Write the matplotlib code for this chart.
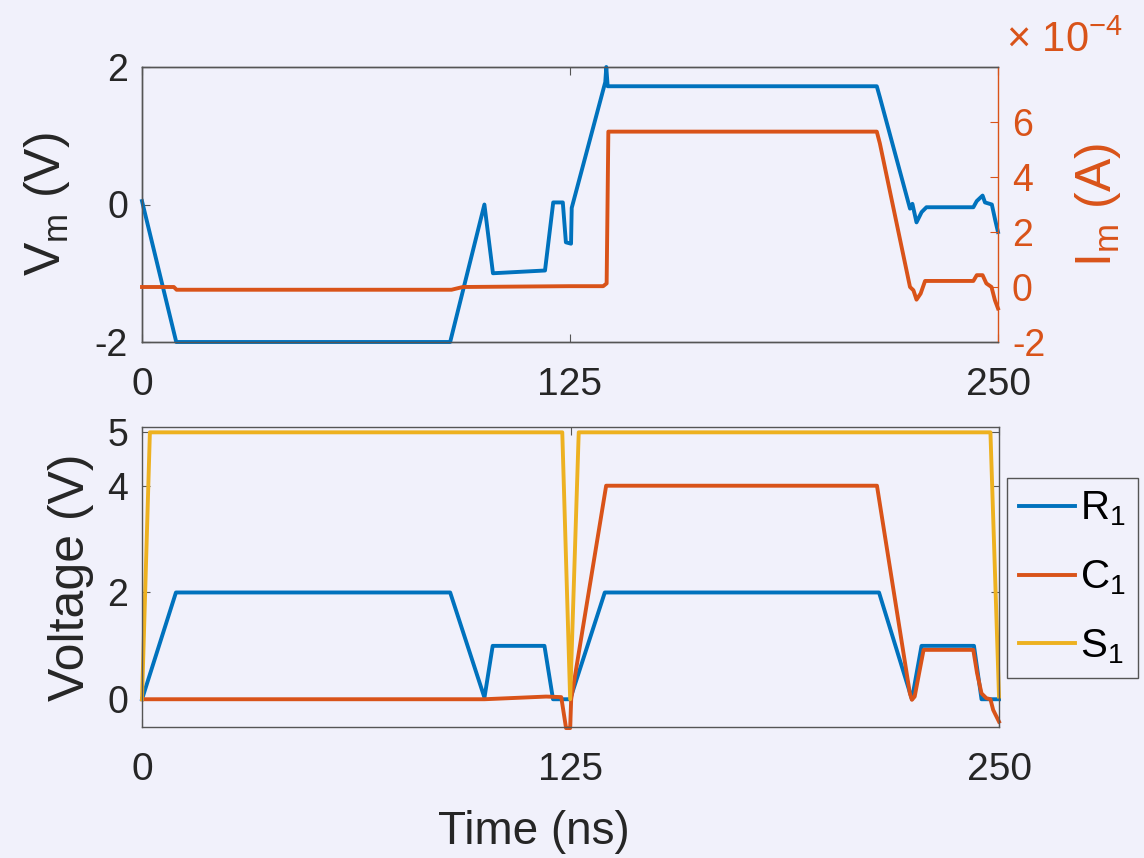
import numpy as np
import matplotlib
matplotlib.use('Agg')
from matplotlib import pyplot as plt

# top panel: memristor voltage (V) and current (1e-4 A)
t_vm = [0, 10, 90, 100, 102.5, 117.7, 120.1, 122.9, 123.8, 125.3, 125.5, 135.3, 135.6, 136.0,
        214.6, 215.5, 224.3, 225.0, 226.2, 227.7, 229.1, 242.8, 243.8, 245.5, 246.2, 248.2, 249.2, 250]
vm = [0.05, -2, -2, 0, -1.0, -0.96, 0.03, 0.03, -0.55, -0.57, -0.05, 1.78, 2.0, 1.72,
      1.72, 1.56, -0.06, 0.01, -0.26, -0.11, -0.04, -0.04, 0.05, 0.13, 0.03, 0.0, -0.23, -0.4]

t_im = [0, 9.3, 10.1, 90.4, 93.7, 124.8, 134.7, 135.7, 136.2, 214.6, 215.5, 224.3, 225.3, 226.2,
        227.4, 228.7, 242.8, 243.8, 245.5, 246.6, 248.1, 249.1, 250]
im = [0.0, 0.0, -0.1, -0.1, 0.0, 0.03, 0.03, 0.13, 5.65, 5.65, 5.22, 0.0, -0.12, -0.46,
      -0.24, 0.22, 0.22, 0.43, 0.43, 0.13, 0.0, -0.48, -0.78]

# bottom panel: node voltages
t_r = [0, 9.9, 89.9, 99.9, 102.3, 117.4, 119.9, 122.8, 124.9, 135, 215, 224.6, 227.4, 242.7, 244.9, 250]
r1 = [0, 2, 2, 0.03, 1, 1, 0, 0, 0, 2, 2, 0, 1, 1, 0, 0]

t_c = [0, 99.9, 117.9, 122.3, 123.7, 124.9, 125.2, 135.4, 214.4, 224.0, 224.6, 225.4, 226.7, 228.0,
       242.5, 243.6, 244.9, 246.3, 247.5, 248.3, 250]
c1 = [0, 0, 0.05, 0.04, -0.54, -0.54, 0, 4, 4, 0.11, -0.01, 0.05, 0.49, 0.925,
      0.925, 0.49, 0.11, 0.02, 0, -0.2, -0.42]

t_s = [0, 2.3, 122.6, 124.9, 127.4, 247.5, 250]
s1 = [0, 5, 5, 0, 5, 5, 0.05]

x_ticks = [0, 125, 250]
names = ['R$_1$', 'C$_1$', 'S$_1$']

bg = '#f1f1fb'
blue = '#0072bd'
orange = '#d95319'
yellow = '#edb120'
dark = '#262626'
edge = '#555555'

plt.rcParams['font.family'] = ['Liberation Sans', 'DejaVu Sans']
plt.rcParams['mathtext.fontset'] = 'custom'
plt.rcParams['mathtext.rm'] = 'Liberation Sans'
plt.rcParams['mathtext.default'] = 'regular'
plt.rcParams['axes.unicode_minus'] = False

fig = plt.figure(figsize=(11.44, 8.58), dpi=100, facecolor=bg)
W, H = 1144, 858
ax1 = fig.add_axes([142 / W, 1 - 342 / H, 856 / W, 275 / H])
ax1r = ax1.twinx()
ax2 = fig.add_axes([142 / W, 1 - 727 / H, 857 / W, 300 / H])

for ax in (ax1, ax2):
    ax.set_facecolor(bg)
    for s in ax.spines.values():
        s.set_color(edge)
        s.set_linewidth(1.0)
    ax.set_xlim(0, 250)
    ax.set_xticks(x_ticks)
    ax.tick_params(axis='x', direction='in', length=6, width=0.8, color=edge, top=True, pad=18,
                   labelsize=28, labelcolor=dark)
    ax.tick_params(axis='y', direction='in', length=6, width=0.8, color=edge, labelsize=27,
                   labelcolor=dark, pad=10)

# top panel
ax1.plot(t_vm, vm, color=blue, lw=2.8, clip_on=False, zorder=3)
ax1.set_ylim(-2, 2)
ax1.set_yticks([-2, 0, 2])
ax1.spines['right'].set_visible(False)
ax1.set_ylabel('V$_m$ (V)', fontsize=36, color=dark)
ax1.yaxis.set_label_coords(-70 / 856, 0.5)

ax1r.plot(t_im, im, color=orange, lw=2.8, clip_on=False, zorder=3)
ax1r.set_ylim(-2, 8)
ax1r.set_yticks([-2, 0, 2, 4, 6])
for k, s in ax1r.spines.items():
    s.set_color(orange if k == 'right' else edge)
    s.set_linewidth(1.0)
ax1r.tick_params(axis='y', direction='in', length=6, width=0.8, color=orange, labelcolor=orange,
                 labelsize=27, pad=10)
ax1r.set_ylabel('I$_m$ (A)', fontsize=36, color=orange, rotation=90)
ax1r.yaxis.set_label_coords(1 + 75 / 856, 0.5)
fig.text(1006 / W, 1 - 52 / H, r'$\times$ 10$^{-4}$', fontsize=30, color=orange, va='baseline')

# bottom panel
ax2.plot(t_r, r1, color=blue, lw=2.8, label=names[0], clip_on=False)
ax2.plot(t_c, c1, color=orange, lw=2.8, label=names[1], clip_on=False)
ax2.plot(t_s, s1, color=yellow, lw=2.8, label=names[2], clip_on=False)
ax2.set_ylim(-0.52, 5.1)
ax2.set_yticks([0, 2, 4, 5])
ax2.tick_params(axis='y', right=True)
ax2.set_ylabel('Voltage (V)', fontsize=36, color=dark)
ax2.yaxis.set_label_coords(-48 / 857, 0.5)
ax2.set_xlabel('Time (ns)', fontsize=33, color=dark)
ax2.xaxis.set_label_coords((534 - 142) / 857, -83 / 300)

leg = ax2.legend(loc='center left', bbox_to_anchor=(1.009, 0.497), borderaxespad=0,
                 fontsize=29, frameon=True, fancybox=False, handlelength=1.4,
                 handletextpad=0.12, labelspacing=0.75, borderpad=0.3)
leg.get_frame().set_edgecolor(edge)
leg.get_frame().set_facecolor(bg)
leg.get_frame().set_linewidth(1.0)
leg.get_frame().set_alpha(1)

fig.savefig('out.png', dpi=100, facecolor=bg)
